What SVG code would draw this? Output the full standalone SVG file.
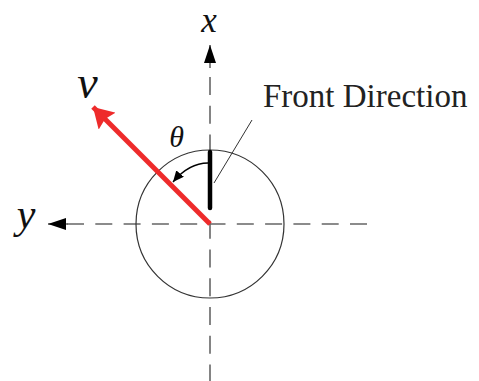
<svg xmlns="http://www.w3.org/2000/svg" width="479" height="381" viewBox="0 0 479 381">
<style>
.axis{stroke:#666;stroke-width:1.6;fill:none}
.dash-h{stroke-dasharray:17 11.3}
.dash-v{stroke-dasharray:18 10.75}
.math{font-family:"Liberation Serif","Times New Roman",serif;font-style:italic;fill:#111}
.label{font-family:"Liberation Serif","Times New Roman",serif;fill:#222}
</style>
<defs>
<marker id="axisArrow" viewBox="0 0 18 12" refX="18" refY="6" markerWidth="18" markerHeight="12" markerUnits="userSpaceOnUse" orient="auto">
<path d="M0,0 L18,6 L0,12 z" fill="#000"/>
</marker>
<marker id="redArrow" viewBox="0 0 20 24" refX="20" refY="12" markerWidth="20" markerHeight="24" markerUnits="userSpaceOnUse" orient="auto">
<path d="M0,0 L20,12 L0,24 L3,12 z" fill="#ee2b2b"/>
</marker>
<marker id="arcArrow" viewBox="0 0 11 10" refX="11" refY="5" markerWidth="11" markerHeight="10" markerUnits="userSpaceOnUse" orient="auto">
<path d="M0,0 L11,5 L0,10 z" fill="#000"/>
</marker>
</defs>
<g id="axes">
<line class="axis dash-h" x1="67" y1="224" x2="367" y2="224"/>
<line class="axis" x1="68" y1="224" x2="48" y2="224" marker-end="url(#axisArrow)"/>
<line class="axis dash-v" x1="210" y1="77" x2="210" y2="381"/>
<line class="axis" x1="210" y1="68" x2="210" y2="45" marker-end="url(#axisArrow)"/>
</g>
<g id="circle">
<circle cx="210" cy="224" r="74" fill="none" stroke="#333" stroke-width="1.2"/>
</g>
<g id="front">
<line x1="210" y1="152" x2="210" y2="208" stroke="#000" stroke-width="4.5" stroke-linecap="round"/>
</g>
<g id="connectors">
<line x1="214" y1="183" x2="252" y2="120" stroke="#333" stroke-width="1"/>
<path d="M208,163 Q189,163 173,182" fill="none" stroke="#000" stroke-width="1.3" marker-end="url(#arcArrow)"/>
<line x1="210" y1="224" x2="93" y2="107" stroke="#ee2b2b" stroke-width="5" marker-end="url(#redArrow)"/>
</g>
<g id="labels">
<text class="math" x="209" y="32" font-size="35" text-anchor="middle">x</text>
<text class="math" x="26" y="228" font-size="42" text-anchor="middle">y</text>
<text class="math" x="87.5" y="98" font-size="46" text-anchor="middle">v</text>
<text class="math" x="176.5" y="147" font-size="30" text-anchor="middle">θ</text>
<text class="label" x="263" y="107" font-size="33">Front Direction</text>
</g>
</svg>
